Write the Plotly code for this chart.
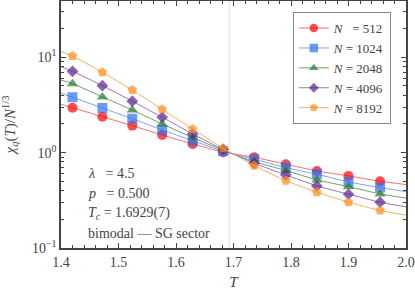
import plotly.graph_objects as go

# ---- data ----
T = [1.420, 1.472, 1.524, 1.576, 1.629, 1.682, 1.736, 1.791, 1.845, 1.900, 1.955]
labels = ["N\u2007 = 512", "N = 1024", "N = 2048", "N = 4096", "N = 8192"]

chi_512  = [2.96, 2.38, 1.92, 1.53, 1.234, 1.01, 0.895, 0.756, 0.643, 0.570, 0.501]
chi_1024 = [3.81, 2.94, 2.27, 1.73, 1.336, 1.035, 0.853, 0.696, 0.594, 0.493, 0.430]
chi_2048 = [5.29, 3.84, 2.80, 2.00, 1.436, 1.06, 0.805, 0.648, 0.518, 0.440, 0.369]
chi_4096 = [7.13, 5.04, 3.46, 2.35, 1.57, 1.08, 0.774, 0.584, 0.448, 0.366, 0.302]
chi_8192 = [10.3, 6.96, 4.54, 2.85, 1.77, 1.11, 0.731, 0.509, 0.385, 0.302, 0.247]

# fit curves extended to the axis limits
T_lo, T_hi = 1.4, 2.0
fit_lo = [3.22, 4.19, 5.78, 7.97, 11.45]
fit_hi = [0.462, 0.390, 0.333, 0.270, 0.221]

Tc = 1.6929

series = [chi_512, chi_1024, chi_2048, chi_4096, chi_8192]
marker_colors = ["#ff0000", "#2f6ff0", "#2a7a2a", "#5a1f8c", "#ff8c19"]
line_colors = ["#ff6b6b", "#7aa6f5", "#6aa26a", "#9b74c2", "#ffad66"]
symbols = ["circle", "square", "triangle-up", "diamond", "pentagon"]
sizes = [10, 10, 10, 9, 10]

FONT = "Liberation Serif"

fig = go.Figure()

for i, ys in enumerate(series):
    xs = [T_lo] + T + [T_hi]
    yy = [fit_lo[i]] + ys + [fit_hi[i]]
    msz = [0] + [sizes[i]] * len(T) + [0]
    lab = labels[i]
    fig.add_trace(go.Scatter(
        x=xs, y=yy, mode="lines+markers",
        name="<i>N</i>" + lab[1:],
        line=dict(color=line_colors[i], width=1, shape="spline", smoothing=0.5),
        marker=dict(symbol=symbols[i], size=msz, color=marker_colors[i],
                    line=dict(width=0)),
    ))

fig.add_shape(type="line", x0=Tc, x1=Tc, y0=0, y1=1, xref="x", yref="paper",
              line=dict(color="#e6e6e6", width=1.5), layer="below")

ann_lines = [
    "<i>λ</i>\u00a0\u00a0 = 4.5",
    "<i>p</i>\u00a0\u00a0 = 0.500",
    "<i>T</i><sub><i>c</i></sub> = 1.6929(7)",
    "bimodal — SG sector",
]
ann_y = [-0.215, -0.425, -0.635, -0.845]
for k, txt in enumerate(ann_lines):
    fig.add_annotation(x=1.4435, y=ann_y[k], xref="x", yref="y",
                       text=txt, showarrow=False, xanchor="left", yanchor="middle",
                       font=dict(family=FONT, size=14, color="#444444"))

minor_y = [m * 10 ** e for e in (-1, 0, 1) for m in range(2, 10)]

axis_common = dict(
    showline=True, linecolor="#444444", linewidth=1.5, mirror="ticks",
    ticks="inside", ticklen=5, tickwidth=1, tickcolor="#444444",
    showgrid=False, zeroline=False, automargin=False,
    tickfont=dict(family=FONT, size=14, color="#444444"),
)

fig.update_layout(
    width=415, height=290,
    margin=dict(l=61, r=9, t=1, b=42),
    paper_bgcolor="white", plot_bgcolor="white",
    font=dict(family=FONT, size=13, color="#444444"),
    showlegend=True,
    legend=dict(x=0.672, y=0.955, xanchor="left", yanchor="top",
                bgcolor="white", bordercolor="#888888", borderwidth=1,
                font=dict(family=FONT, size=13, color="#444444"),
                tracegroupgap=0, itemwidth=30),
    xaxis=dict(range=[1.4, 2.0], tickvals=[1.4, 1.5, 1.6, 1.7, 1.8, 1.9, 2.0],
               ticktext=["1.4", "1.5", "1.6", "1.7", "1.8", "1.9", "2.0"],
               minor=dict(dtick=0.02, tick0=1.4, ticks="inside", ticklen=3,
                          tickcolor="#444444", showgrid=False),
               title=dict(text="<i>T</i>", font=dict(family=FONT, size=15), standoff=8),
               **axis_common),
    yaxis=dict(type="log", range=[-1, 1.59], tickvals=[0.1, 1, 10],
               ticktext=["10<sup>−1</sup>", "10<sup>0</sup>", "10<sup>1</sup>"],
               minor=dict(tickvals=minor_y, ticks="inside", ticklen=3,
                          tickcolor="#444444", showgrid=False),
               title=dict(text="<i>χ</i><sub><i>q</i></sub>(<i>T</i>)/<i>N</i><sup>1/3</sup>",
                          font=dict(family=FONT, size=15), standoff=16),
               **axis_common),
)

fig.write_html("out.html", config={"displayModeBar": False},
               post_script="document.body.style.margin='0';document.body.style.padding='0';")
